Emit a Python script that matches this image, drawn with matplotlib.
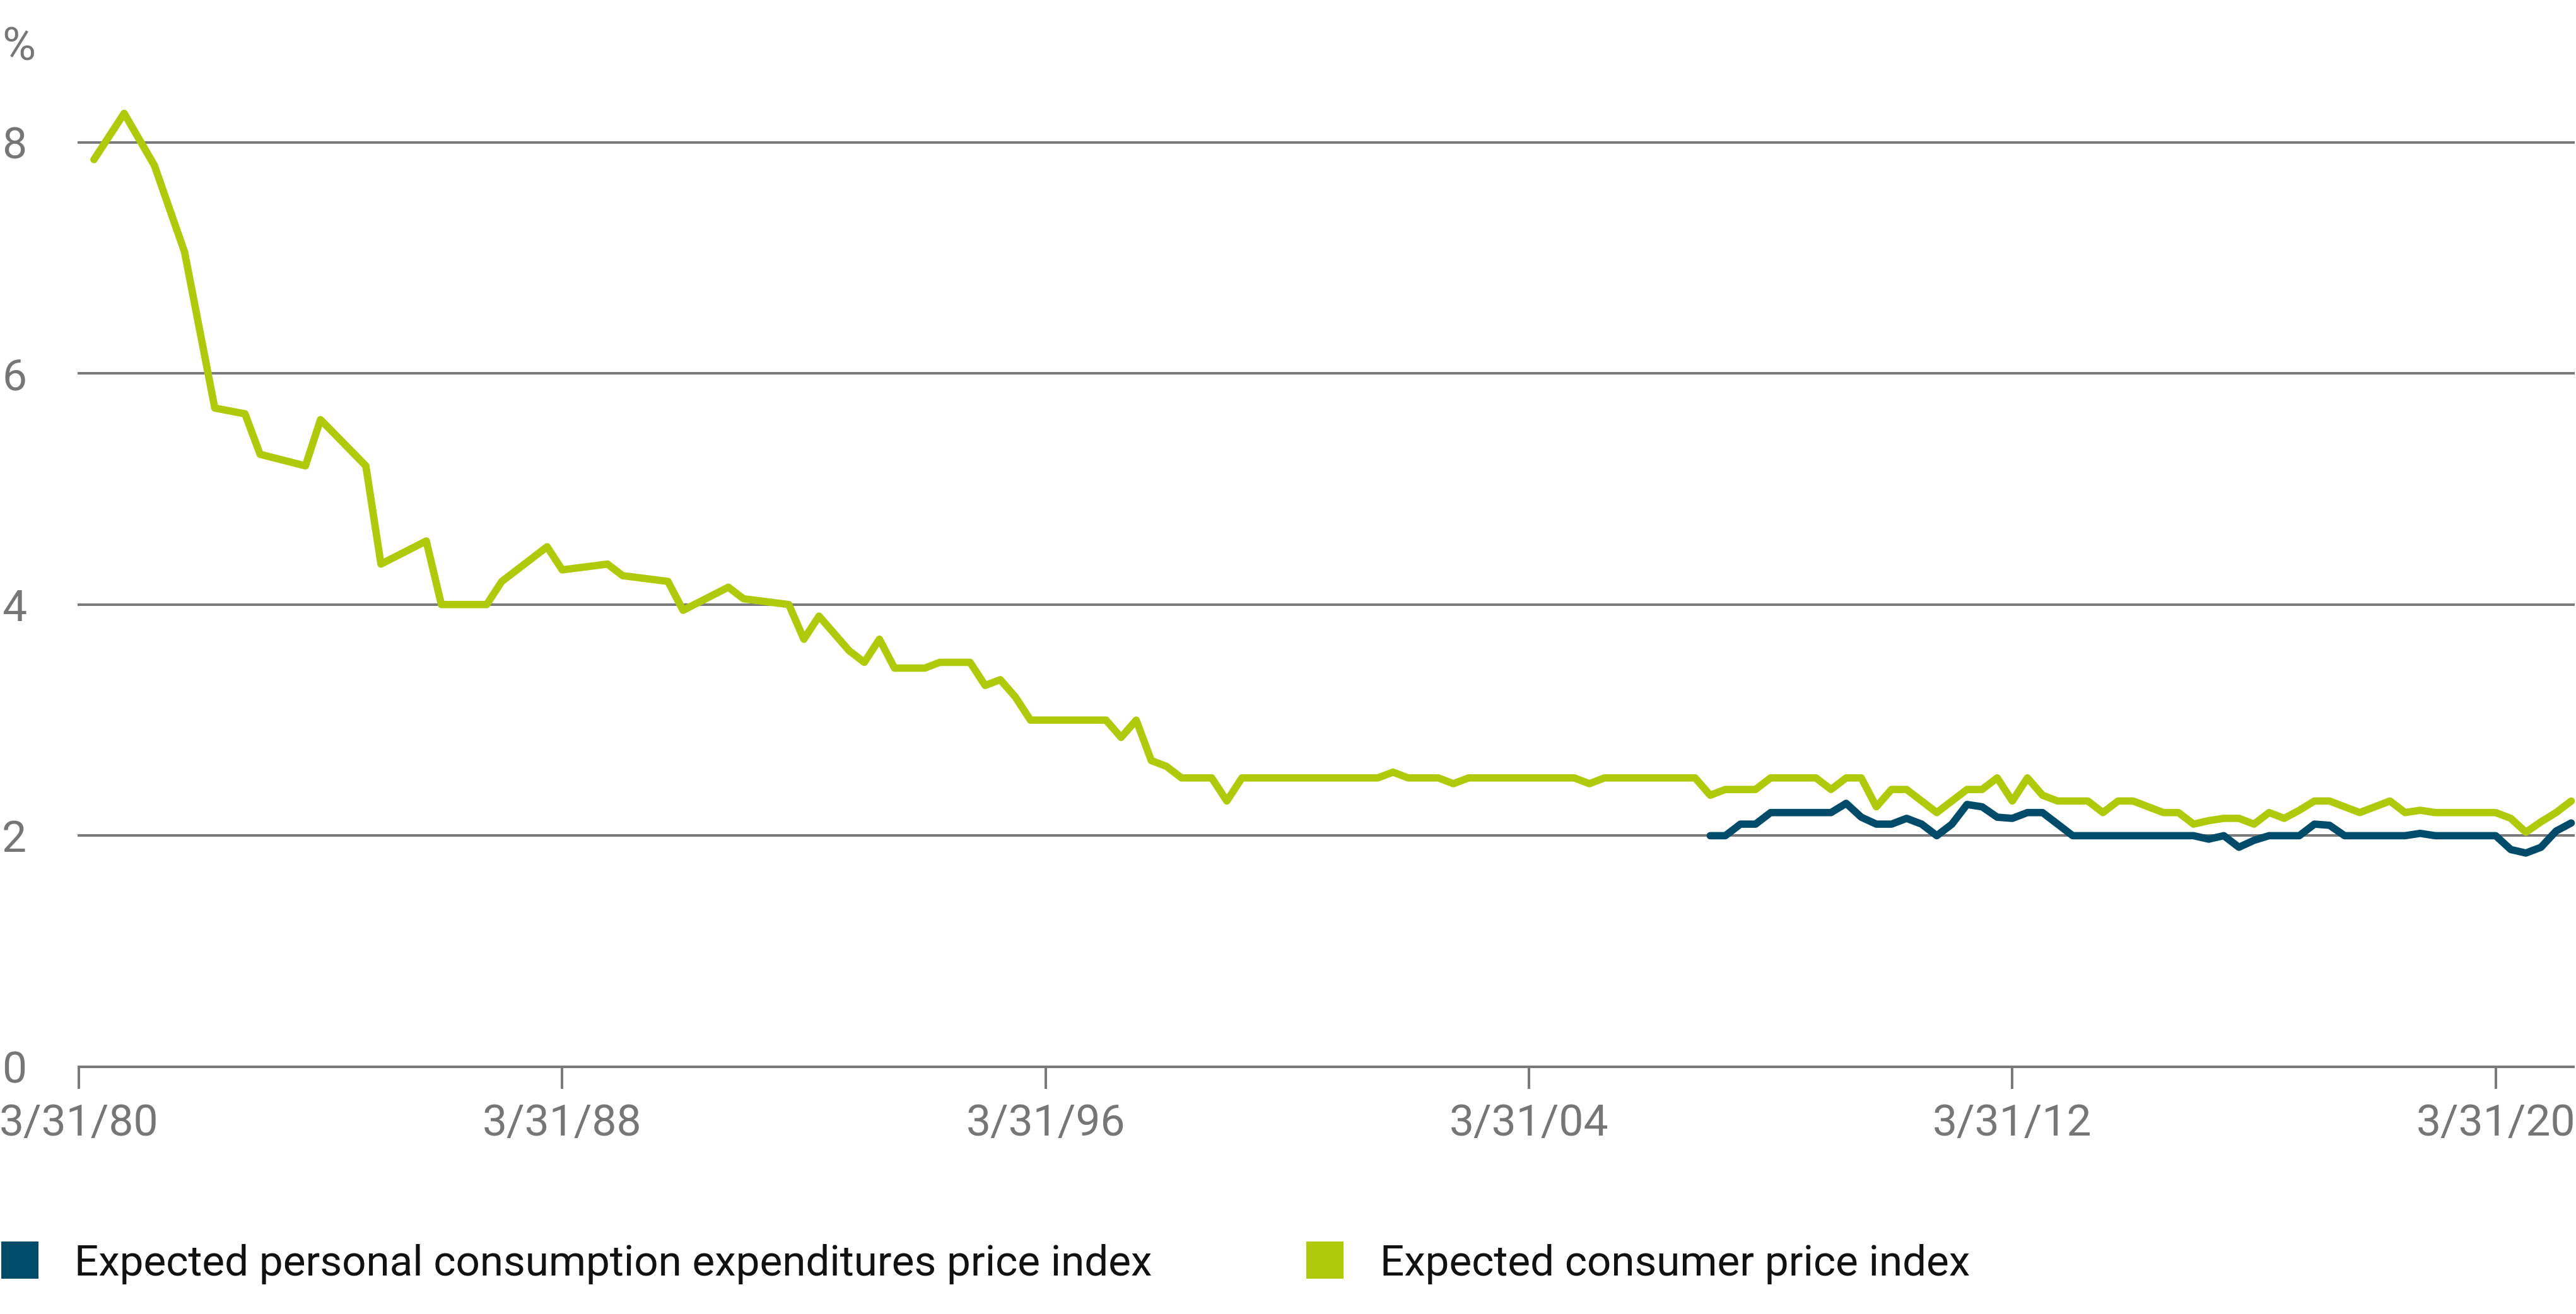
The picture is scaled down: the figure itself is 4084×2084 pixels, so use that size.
import matplotlib
matplotlib.use("Agg")
import matplotlib.pyplot as plt
from matplotlib.patches import Rectangle

plt.rcParams['font.family'] = ['Roboto', 'DejaVu Sans']

# ---------------- data ----------------
# x positions: quarters after 3/31/80
cpi_quarters = [1, 3, 5, 7, 9, 11, 12, 15, 16, 19, 20, 23, 24, 27, 28, 31, 32, 35, 36,
                39, 40, 43, 44, 47, 48, 49, 51, 52, 53, 54, 56, 57, 59, 60, 61, 62, 63,
                68, 69, 70, 71, 72, 73, 75, 76, 77, 86, 87, 88, 90, 91, 92, 99, 100, 101,
                107, 108, 109, 111, 112, 115, 116, 117, 118, 119, 120, 121, 122, 123, 124,
                125, 126, 127, 128, 129, 130, 131, 133, 134, 135, 136, 137, 138, 139, 140,
                141, 142, 143, 144, 145, 146, 147, 148, 149, 150, 151, 152, 153, 154, 155,
                156, 160, 161, 162, 163, 164, 165]
cpi_values = [7.85, 8.25, 7.80, 7.05, 5.70, 5.65, 5.30, 5.20, 5.60, 5.20, 4.35, 4.55, 4.00,
              4.00, 4.20, 4.50, 4.30, 4.35, 4.25, 4.20, 3.95, 4.15, 4.05, 4.00, 3.70, 3.90,
              3.60, 3.50, 3.70, 3.45, 3.45, 3.50, 3.50, 3.30, 3.35, 3.20, 3.00, 3.00, 2.85,
              3.00, 2.65, 2.60, 2.50, 2.50, 2.30, 2.50, 2.50, 2.55, 2.50, 2.50, 2.45, 2.50,
              2.50, 2.45, 2.50, 2.50, 2.35, 2.40, 2.40, 2.50, 2.50, 2.40, 2.50, 2.50, 2.25,
              2.40, 2.40, 2.30, 2.20, 2.30, 2.40, 2.40, 2.50, 2.30, 2.50, 2.35, 2.30, 2.30,
              2.20, 2.30, 2.30, 2.25, 2.20, 2.20, 2.10, 2.13, 2.15, 2.15, 2.10, 2.20, 2.15,
              2.22, 2.30, 2.30, 2.25, 2.20, 2.25, 2.30, 2.20, 2.22, 2.20, 2.20, 2.15, 2.03,
              2.12, 2.20, 2.30]

pce_quarters = [108, 109, 110, 111, 112, 116, 117, 118, 119, 120, 121, 122, 123, 124, 125,
                126, 127, 128, 129, 130, 131, 132, 140, 141, 142, 143, 144, 145, 147, 148,
                149, 150, 154, 155, 156, 160, 161, 162, 163, 164, 165]
pce_values = [2.00, 2.00, 2.10, 2.10, 2.20, 2.20, 2.28, 2.16, 2.10, 2.10, 2.15, 2.10, 2.00,
              2.10, 2.27, 2.25, 2.16, 2.15, 2.20, 2.20, 2.10, 2.00, 2.00, 1.97, 2.00, 1.90,
              1.96, 2.00, 2.00, 2.10, 2.09, 2.00, 2.00, 2.02, 2.00, 2.00, 1.88, 1.85, 1.90,
              2.04, 2.11]

tick_quarters = [0, 32, 64, 96, 128, 160]
tick_labels = ["3/31/80", "3/31/88", "3/31/96", "3/31/04", "3/31/12", "3/31/20"]
y_ticks = [0, 2, 4, 6, 8]
series_names = ["Expected personal consumption expenditures price index",
                "Expected consumer price index"]

# ---------------- style ----------------
GREEN = "#AFCA0B"
BLUE = "#004A6A"
GRID = "#7A7A7A"
TXT = "#767676"
FS = 50

W, H, DPI = 4084, 2084, 100
fig = plt.figure(figsize=(W / DPI, H / DPI), dpi=DPI)
ax = fig.add_axes([125 / W, 392 / H, (4080 - 125) / W, (8.8 * 183.3) / H])

ax.plot(cpi_quarters, cpi_values, color=GREEN, lw=8.4, solid_capstyle='round',
        solid_joinstyle='round', clip_on=False, zorder=3)
ax.plot(pce_quarters, pce_values, color=BLUE, lw=8.4, solid_capstyle='round',
        solid_joinstyle='round', clip_on=False, zorder=4)

ax.set_xlim(0, 165.15)
ax.set_ylim(0, 8.8)
ax.set_yticks(y_ticks)
ax.set_yticklabels([str(v) for v in y_ticks])
ax.set_xticks(tick_quarters)
ax.set_xticklabels(tick_labels)

ax.yaxis.grid(True, color=GRID, linewidth=2.9)
for gl in ax.get_ygridlines():
    gl.set_clip_on(False)
ax.set_axisbelow(True)
for s in ax.spines.values():
    s.set_visible(False)

ax.tick_params(axis='x', direction='out', length=25.2, width=2.9, color=GRID,
               labelsize=FS, labelcolor=TXT, pad=16)
ax.tick_params(axis='y', length=0, labelsize=FS, labelcolor=TXT, pad=87.8)
for lab in ax.get_yticklabels():
    lab.set_horizontalalignment('left')

fig.text(3 / W, 1 - 95 / H, "%", fontsize=FS + 2, color=TXT, va='baseline', ha='left')

# legend
legend_items = [(2, 118, BLUE, series_names[0]), (2071, 2188, GREEN, series_names[1])]
for sx, tx, col, name in legend_items:
    fig.patches.append(Rectangle((sx / W, 1 - 2028 / H), 59 / W, 59 / H,
                                 transform=fig.transFigure, facecolor=col,
                                 edgecolor='none'))
    fig.text(tx / W, 1 - 2023 / H, name, fontsize=48.5, color="#111111",
             va='baseline', ha='left')

fig.savefig("out.png", dpi=DPI, facecolor='white')
